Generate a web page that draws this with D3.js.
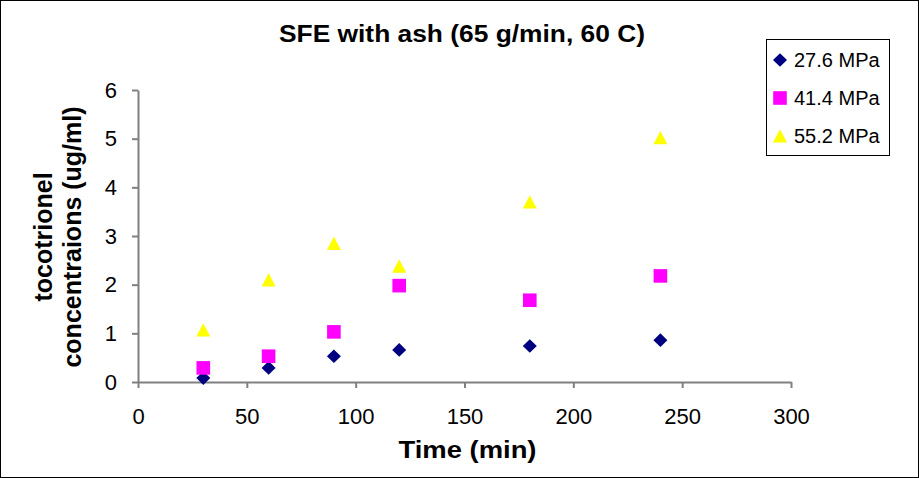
<!DOCTYPE html>
<html>
<head>
<meta charset="utf-8">
<script src="https://cdn.jsdelivr.net/npm/d3@7"></script>
<style>
  html, body { margin: 0; padding: 0; background: #fff; }
  svg { display: block; font-family: "Liberation Sans", Arial, sans-serif; }
</style>
</head>
<body>
<svg id="chart" width="919" height="478"></svg>
<script>
const times = [30, 60, 90, 120, 180, 240];
const seriesNames = ["27.6 MPa", "41.4 MPa", "55.2 MPa"];
const values276 = [0.08, 0.29, 0.53, 0.66, 0.74, 0.86];
const values414 = [0.29, 0.53, 1.03, 1.98, 1.68, 2.18];
const values552 = [1.07, 2.10, 2.85, 2.38, 3.70, 5.02];
const xTicks = [0, 50, 100, 150, 200, 250, 300];
const yTicks = [0, 1, 2, 3, 4, 5, 6];
const titleText = "SFE with ash (65 g/min, 60 C)";
const xLabel = "Time (min)";
const yLabelLines = ["tocotrionel", "concentraions (ug/ml)"];

const colors = ["#000080", "#FF00FF", "#FFFF00"];

// Excel-like marker shapes (bounding-box centred)
const diamondType = { draw(ctx) { ctx.moveTo(0, -6.8); ctx.lineTo(7, 0); ctx.lineTo(0, 6.8); ctx.lineTo(-7, 0); ctx.closePath(); } };
const squareType = { draw(ctx) { ctx.rect(-6.8, -6.8, 13.6, 13.6); } };
const triangleType = { draw(ctx) { ctx.moveTo(0, -6.8); ctx.lineTo(7, 6.6); ctx.lineTo(-7, 6.6); ctx.closePath(); } };
const shapes = [diamondType, squareType, triangleType];
const allSeries = [values276, values414, values552];

const svg = d3.select("#chart");
svg.append("rect").attr("x", 0.5).attr("y", 0.5).attr("width", 918).attr("height", 477)
  .attr("fill", "#fff").attr("stroke", "#000").attr("stroke-width", 1);

const x = d3.scaleLinear().domain([0, 300]).range([138, 791]);
const y = d3.scaleLinear().domain([0, 6]).range([382, 90]);
const axisColor = "#808080";
const fontFam = "Liberation Sans, Arial, sans-serif";

// x axis
const gx = svg.append("g").attr("transform", "translate(0,382)")
  .call(d3.axisBottom(x).tickValues(xTicks).tickFormat(d3.format("d")).tickSize(6).tickSizeOuter(0).tickPadding(20));
gx.select(".domain").attr("stroke", axisColor).attr("stroke-width", 2);
gx.selectAll(".tick line").attr("stroke", axisColor).attr("stroke-width", 2);
gx.selectAll(".tick text").attr("fill", "#000").attr("font-size", 22).attr("font-family", fontFam);

// y axis
const gy = svg.append("g").attr("transform", "translate(138,0)")
  .call(d3.axisLeft(y).tickValues(yTicks).tickFormat(d3.format("d")).tickSize(6).tickSizeOuter(0).tickPadding(15));
gy.select(".domain").attr("stroke", axisColor).attr("stroke-width", 2);
gy.selectAll(".tick line").attr("stroke", axisColor).attr("stroke-width", 2);
gy.selectAll(".tick text").attr("fill", "#000").attr("font-size", 22).attr("font-family", fontFam);

// points
allSeries.forEach((vals, si) => {
  svg.append("g").selectAll("path").data(vals).join("path")
    .attr("transform", (d, i) => `translate(${x(times[i])},${y(d)})`)
    .attr("d", d3.symbol().type(shapes[si]).size(1))
    .attr("fill", colors[si]);
});

// title
svg.append("text").attr("x", 462).attr("y", 42).attr("text-anchor", "middle")
  .attr("font-size", 23).attr("font-weight", "bold")
  .attr("textLength", 366).attr("lengthAdjust", "spacingAndGlyphs").text(titleText);

// x label
svg.append("text").attr("x", 467.5).attr("y", 458).attr("text-anchor", "middle")
  .attr("font-size", 23).attr("font-weight", "bold")
  .attr("textLength", 138).attr("lengthAdjust", "spacingAndGlyphs").text(xLabel);

// y label
const yl = svg.append("text").attr("transform", "translate(0,237) rotate(-90)")
  .attr("text-anchor", "middle").attr("font-size", 25).attr("font-weight", "bold");
yl.append("tspan").attr("x", 0).attr("y", 52).text(yLabelLines[0]);
yl.append("tspan").attr("x", 0).attr("y", 81).text(yLabelLines[1]);

// legend
const lg = svg.append("g");
lg.append("rect").attr("x", 766.5).attr("y", 39.5).attr("width", 123).attr("height", 116)
  .attr("fill", "#fff").attr("stroke", "#000").attr("stroke-width", 1);
seriesNames.forEach((name, i) => {
  const cy = 60 + i * 38;
  lg.append("path").attr("transform", `translate(780,${cy})`)
    .attr("d", d3.symbol().type(shapes[i]).size(1)).attr("fill", colors[i]);
  lg.append("text").attr("x", 794).attr("y", cy + 7).attr("font-size", 20).text(name);
});
</script>
</body>
</html>
